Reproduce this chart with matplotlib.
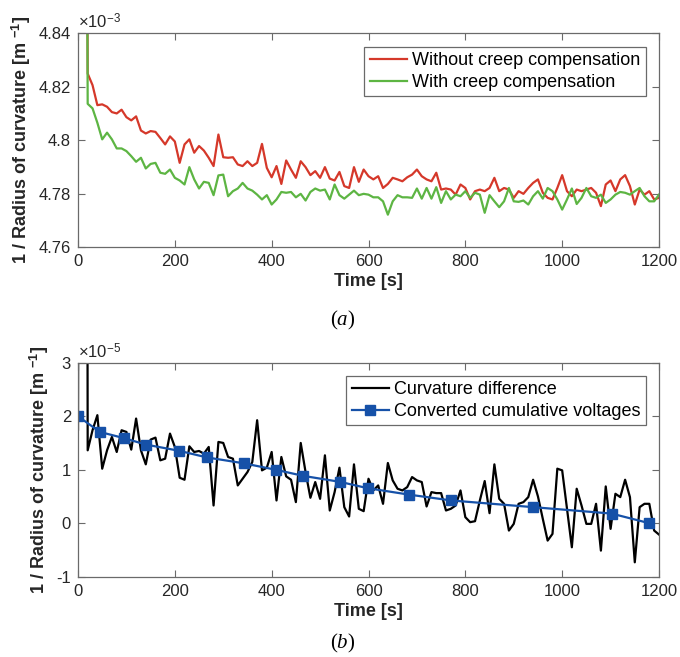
import matplotlib
matplotlib.use('Agg')
import matplotlib.pyplot as plt
import numpy as np

plt.rcParams['font.family'] = ['Liberation Sans', 'DejaVu Sans']
plt.rcParams['mathtext.fontset'] = 'custom'
plt.rcParams['mathtext.rm'] = 'Liberation Sans'
plt.rcParams['mathtext.bf'] = 'Liberation Sans:bold'
plt.rcParams['mathtext.it'] = 'Liberation Serif:italic'

# ---------------- data (a) : values in units of 1e-3 m^-1 ----------------
time_a = np.arange(10, 1201, 10)
without_comp = [5.30,
    4.8249, 4.8206, 4.8131, 4.8134, 4.8125, 4.8105, 4.8100, 4.8114, 4.8086, 4.8074,
    4.8089, 4.8036, 4.8025, 4.8034, 4.8031, 4.8008, 4.7984, 4.8014, 4.7995, 4.7915,
    4.7984, 4.8003, 4.7953, 4.7978, 4.7961, 4.7934, 4.7903, 4.8021, 4.7936, 4.7934,
    4.7936, 4.7909, 4.7903, 4.7921, 4.7903, 4.7915, 4.7986, 4.7896, 4.7861, 4.7903,
    4.7836, 4.7924, 4.7890, 4.7859, 4.7921, 4.7899, 4.7869, 4.7884, 4.7859, 4.7899,
    4.7856, 4.7849, 4.7881, 4.7828, 4.7821, 4.7899, 4.7844, 4.7890, 4.7865, 4.7853,
    4.7865, 4.7821, 4.7836, 4.7859, 4.7853, 4.7846, 4.7861, 4.7871, 4.7890, 4.7865,
    4.7853, 4.7846, 4.7878, 4.7815, 4.7819, 4.7815, 4.7796, 4.7834, 4.7821, 4.7778,
    4.7809, 4.7815, 4.7809, 4.7821, 4.7859, 4.7809, 4.7821, 4.7815, 4.7784, 4.7809,
    4.7799, 4.7821, 4.7840, 4.7853, 4.7803, 4.7784, 4.7778, 4.7821, 4.7869, 4.7809,
    4.7790, 4.7815, 4.7809, 4.7815, 4.7821, 4.7803, 4.7753, 4.7834, 4.7849, 4.7809,
    4.7853, 4.7869, 4.7828, 4.7759, 4.7815, 4.7796, 4.7809, 4.7778, 4.7784]
with_comp = [5.30,
    4.8136, 4.8119, 4.8065, 4.8003, 4.8028, 4.8003, 4.7969, 4.7969, 4.7959, 4.7940,
    4.7919, 4.7934, 4.7894, 4.7911, 4.7915, 4.7878, 4.7874, 4.7890, 4.7859, 4.7849,
    4.7834, 4.7899, 4.7853, 4.7819, 4.7844, 4.7840, 4.7794, 4.7868, 4.7871, 4.7790,
    4.7809, 4.7819, 4.7840, 4.7819, 4.7811, 4.7796, 4.7778, 4.7794, 4.7759, 4.7778,
    4.7806, 4.7803, 4.7806, 4.7786, 4.7799, 4.7774, 4.7806, 4.7819, 4.7811, 4.7815,
    4.7778, 4.7834, 4.7794, 4.7781, 4.7796, 4.7811, 4.7794, 4.7799, 4.7796, 4.7786,
    4.7786, 4.7771, 4.7721, 4.7771, 4.7794, 4.7786, 4.7786, 4.7784, 4.7819, 4.7781,
    4.7821, 4.7781, 4.7824, 4.7765, 4.7809, 4.7778, 4.7796, 4.7790, 4.7809, 4.7784,
    4.7803, 4.7796, 4.7728, 4.7794, 4.7771, 4.7749, 4.7771, 4.7821, 4.7771, 4.7769,
    4.7774, 4.7759, 4.7790, 4.7809, 4.7781, 4.7821, 4.7809, 4.7778, 4.7740, 4.7778,
    4.7819, 4.7761, 4.7784, 4.7821, 4.7790, 4.7784, 4.7796, 4.7765, 4.7778, 4.7796,
    4.7806, 4.7803, 4.7796, 4.7809, 4.7821, 4.7790, 4.7771, 4.7771, 4.7796]

# ---------------- data (b) : values in units of 1e-5 m^-1 ----------------
time_b = np.arange(0, 1201, 10)
curv_diff = [1.75, 60.0,
    1.3625, 1.7375, 2.019, 1.019, 1.3625, 1.6125, 1.331, 1.7375, 1.706, 1.375,
    1.956, 1.3625, 1.10, 1.5625, 1.60, 1.175, 1.206, 1.675, 1.425, 0.85,
    0.8125, 1.4375, 1.331, 1.35, 1.30, 1.425, 0.331, 1.519, 1.50, 1.2375,
    1.206, 0.706, 0.831, 0.956, 1.144, 1.925, 0.9875, 1.0375, 1.331, 0.425,
    1.2375, 0.875, 0.8125, 0.394, 1.50, 0.956, 0.475, 0.769, 0.456, 1.269,
    0.2375, 0.581, 1.0375, 0.30, 0.125, 1.10, 0.269, 0.225, 0.831, 0.6125,
    0.706, 0.3625, 1.125, 0.80, 0.644, 0.6125, 0.675, 0.8625, 0.80, 0.769,
    0.3125, 0.581, 0.5625, 0.5625, 0.2375, 0.269, 0.331, 0.6125, 0.1125, 0.019,
    0.0375, 0.425, 0.7875, 0.1875, 1.10, 0.456, 0.3625, -0.1375, -0.0125, 0.3625,
    0.394, 0.4875, 0.8125, 0.50, 0.081, -0.325, -0.20, 1.019, 0.9875, 0.269,
    -0.45, 0.644, 0.331, -0.0125, -0.0125, 0.3625, -0.5125, 0.6875, -0.106, 0.55,
    0.4875, 0.8125, 0.4875, -0.731, 0.30, 0.3625, 0.3625, -0.1375, -0.2125]
volt_time = [0, 45, 95, 140, 208, 266, 342, 408, 465, 541, 598, 683, 771, 940, 1102, 1180]
volt_vals = [2.0, 1.706, 1.59, 1.47, 1.355, 1.23, 1.12, 1.0, 0.885, 0.773, 0.655,
             0.535, 0.425, 0.30, 0.18, 0.0]

xticks = [0, 200, 400, 600, 800, 1000, 1200]
yticks_a = [4.76, 4.78, 4.80, 4.82, 4.84]
yticklabels_a = ['4.76', '4.78', '4.8', '4.82', '4.84']
yticks_b = [-1, 0, 1, 2, 3]
yticklabels_b = ['-1', '0', '1', '2', '3']

RED = '#d5382a'
GREEN = '#5db543'
BLUE = '#1651a8'
AXC = '#6a6a6a'
TXT = '#262626'

fig = plt.figure(figsize=(6.8, 6.57), dpi=100)
ax1 = fig.add_axes([78/680, 1-247/657, 581/680, 213.7/657])
ax2 = fig.add_axes([78/680, 1-576.7/657, 581/680, 214/657])


def style(ax, yt, ytl, ylim):
    ax.set_xlim(0, 1200)
    ax.set_ylim(*ylim)
    ax.set_xticks(xticks)
    ax.set_xticklabels([str(v) for v in xticks])
    ax.set_yticks(yt)
    ax.set_yticklabels(ytl)
    ax.tick_params(direction='in', top=True, right=True, length=5, width=0.8,
                   labelsize=12, colors=AXC, labelcolor=TXT, pad=5)
    for s in ax.spines.values():
        s.set_color(AXC)
        s.set_linewidth(0.9)
    ax.set_xlabel('Time [s]', fontsize=13, fontweight='bold', color=TXT, labelpad=3)
    ax.set_ylabel('1 / Radius of curvature [m $^{\\mathbf{-1}}$]', fontsize=13,
                  fontweight='bold', color=TXT, labelpad=4)


def add_legend(ax, top):
    leg = ax.legend(loc='upper right', bbox_to_anchor=(0.9776, top), borderaxespad=0,
                    fontsize=13, fancybox=False, framealpha=1, edgecolor=AXC,
                    handlelength=2.05, handletextpad=0.3, labelspacing=0.25,
                    borderpad=0.3)
    leg.get_frame().set_linewidth(0.9)
    return leg


ax1.plot(time_a, without_comp, color=RED, lw=1.6, label='Without creep compensation')
ax1.plot(time_a, with_comp, color=GREEN, lw=1.6, label='With creep compensation')
style(ax1, yticks_a, yticklabels_a, (4.76, 4.84))
ax1.text(0.0, 1.008, '×10$^{\\mathrm{-3}}$', transform=ax1.transAxes, ha='left',
         va='bottom', fontsize=12, color=TXT)
add_legend(ax1, 0.936)

ax2.plot(time_b, curv_diff, color='black', lw=1.6, label='Curvature difference')
ax2.plot(volt_time, volt_vals, color=BLUE, lw=1.6, marker='s', markersize=7,
         label='Converted cumulative voltages')
style(ax2, yticks_b, yticklabels_b, (-1, 3))
ax2.text(0.0, 1.008, '×10$^{\\mathrm{-5}}$', transform=ax2.transAxes, ha='left',
         va='bottom', fontsize=12, color=TXT)
add_legend(ax2, 0.938)

fig.text(343/680, 1-320/657, '($a$)', family='Liberation Serif', fontsize=15,
         ha='center', va='center', color='black')
fig.text(343/680, 1-643/657, '($b$)', family='Liberation Serif', fontsize=15,
         ha='center', va='center', color='black')

fig.savefig('out.png', dpi=100)
